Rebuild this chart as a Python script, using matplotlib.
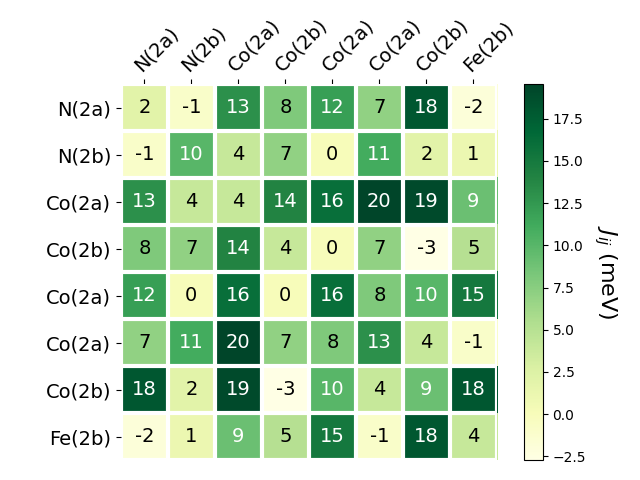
import numpy as np
import matplotlib
matplotlib.use("Agg")
import matplotlib.pyplot as plt

labels = ["N(2a)", "N(2b)", "Co(2a)", "Co(2b)", "Co(2a)", "Co(2a)", "Co(2b)", "Fe(2b)"]

row0 = [2.0, -1.0, 13.0, 8.0, 12.0, 7.0, 18.0, -2.0]
row1 = [-1.0, 10.0, 4.0, 7.0, 0.0, 11.0, 2.0, 1.0]
row2 = [13.0, 4.0, 4.0, 14.0, 16.0, 19.52, 19.0, 9.0]
row3 = [8.0, 7.0, 14.0, 4.0, 0.0, 7.0, -2.74, 5.0]
row4 = [12.0, 0.0, 16.0, 0.0, 16.0, 8.0, 10.0, 15.0]
row5 = [7.0, 11.0, 19.52, 7.0, 8.0, 13.0, 4.0, -1.0]
row6 = [18.0, 2.0, 19.0, -2.74, 10.0, 4.0, 9.0, 18.0]
row7 = [-2.0, 1.0, 9.0, 5.0, 15.0, -1.0, 18.0, 4.0]

data = np.array([row0, row1, row2, row3, row4, row5, row6, row7])

fig, ax = plt.subplots(figsize=(6.4, 4.8), dpi=100)
im = ax.imshow(data, cmap="YlGn")

cbar = ax.figure.colorbar(im, ax=ax)
cbar.ax.set_ylabel("$J_{ij}$ (meV)", rotation=-90, va="bottom", fontsize=16)

ax.set_xticks(np.arange(data.shape[1]), labels=labels, fontsize=14)
ax.set_yticks(np.arange(data.shape[0]), labels=labels, fontsize=14)
ax.tick_params(top=True, bottom=False, labeltop=True, labelbottom=False)
plt.setp(ax.get_xticklabels(), rotation=45, ha="left", rotation_mode="anchor")

ax.spines[:].set_visible(False)
ax.set_xticks(np.arange(data.shape[1] + 1) - .5, minor=True)
ax.set_yticks(np.arange(data.shape[0] + 1) - .5, minor=True)
ax.grid(which="minor", color="w", linestyle='-', linewidth=3)
ax.tick_params(which="minor", bottom=False, left=False, top=False)

threshold = im.norm(data.max()) / 2.
for i in range(data.shape[0]):
    for j in range(data.shape[1]):
        c = "white" if im.norm(data[i, j]) > threshold else "black"
        ax.text(j, i, "{:.0f}".format(data[i, j]), ha="center", va="center",
                color=c, fontsize=14)

fig.tight_layout()
fig.savefig("out.png")
